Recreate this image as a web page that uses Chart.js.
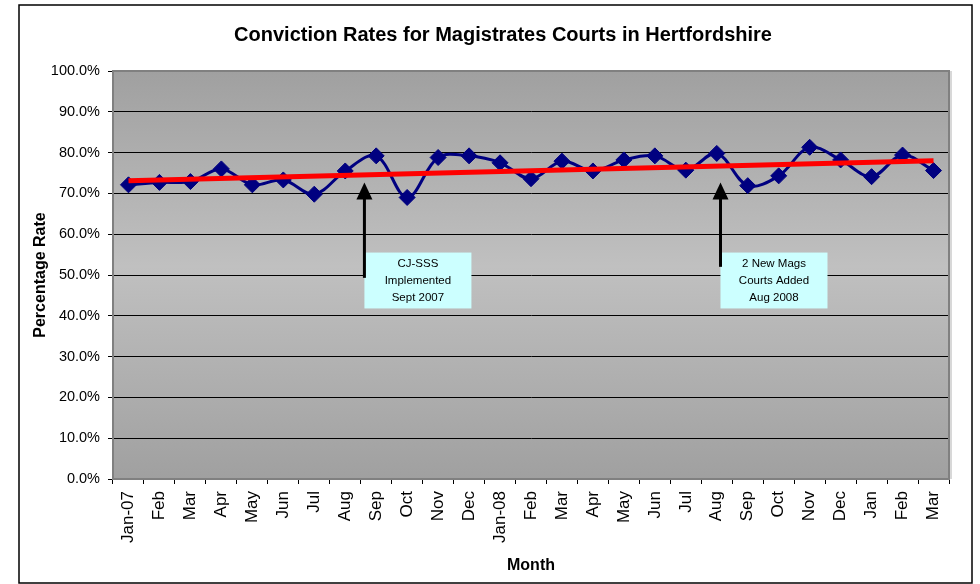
<!DOCTYPE html>
<html>
<head>
<meta charset="utf-8">
<script src="https://cdn.jsdelivr.net/npm/chart.js@4.4.1/dist/chart.umd.min.js"></script>
<style>
  body { margin: 0; background: #fff; }
  canvas { display: block; }
</style>
</head>
<body>
<canvas id="myChart" width="980" height="584"></canvas>
<script>
// data
const months = ['Jan-07', 'Feb', 'Mar', 'Apr', 'May', 'Jun', 'Jul', 'Aug', 'Sep', 'Oct', 'Nov', 'Dec',
  'Jan-08', 'Feb', 'Mar', 'Apr', 'May', 'Jun', 'Jul', 'Aug', 'Sep', 'Oct', 'Nov', 'Dec', 'Jan', 'Feb', 'Mar'];
const convictionRate = [72.1, 72.7, 72.9, 76.0, 72.1, 73.3, 69.8, 75.5, 79.2, 69.0, 78.8, 79.2,
  77.5, 73.6, 77.9, 75.5, 78.2, 79.2, 75.7, 79.8, 71.9, 74.3, 81.3, 78.2, 74.1, 79.4, 75.6];
const trendEnds = [73.1, 78.0];
const yTicks = [0, 10, 20, 30, 40, 50, 60, 70, 80, 90, 100];

// trend line: only the two end values, the line spans the gap
const trendLine = months.map((m, i) => i === 0 ? trendEnds[0] : (i === months.length - 1 ? trendEnds[1] : null));

// notes: x as category index, y in % on the value axis
const notes = [
  { x: 7.62, tip: 72.7, tail: 49.3, top: 55.5, bottom: 41.8, lines: ['CJ-SSS', 'Implemented', 'Sept 2007'] },
  { x: 19.12, tip: 72.7, tail: 52.0, top: 55.5, bottom: 41.8, lines: ['2 New Mags', 'Courts Added', 'Aug 2008'] }
];

const FONT = 'Arial, "Liberation Sans", sans-serif';

const plotBackground = {
  id: 'plotBackground',
  beforeDraw(chart) {
    const { ctx, chartArea: a } = chart;
    ctx.save();
    const g = ctx.createLinearGradient(0, a.top, 0, a.bottom);
    g.addColorStop(0, '#a0a0a0');
    g.addColorStop(0.48, '#c0c0c0');
    g.addColorStop(1, '#a0a0a0');
    ctx.fillStyle = g;
    ctx.fillRect(a.left, a.top, a.right - a.left, a.bottom - a.top);
    ctx.restore();
  },
  beforeDatasetsDraw(chart) {
    const { ctx, chartArea: a, scales } = chart;
    ctx.save();
    ctx.strokeStyle = '#808080';
    ctx.lineWidth = 2;
    ctx.strokeRect(a.left, a.top, a.right - a.left, a.bottom - a.top);
    ctx.fillStyle = '#d8d8d8';
    ctx.fillRect(a.right + 1, a.top, 2, a.bottom - a.top);

    // note boxes and arrows
    notes.forEach(n => {
      const x = scales.x.getPixelForValue(n.x);
      const yTip = scales.y.getPixelForValue(n.tip);
      const yTail = scales.y.getPixelForValue(n.tail);
      const yTop = scales.y.getPixelForValue(n.top);
      const yBot = scales.y.getPixelForValue(n.bottom);
      const w = 107;
      ctx.fillStyle = '#ccffff';
      ctx.fillRect(x, yTop, w, yBot - yTop);
      ctx.fillStyle = '#000';
      ctx.font = '11.5px ' + FONT;
      ctx.textAlign = 'center';
      ctx.textBaseline = 'middle';
      n.lines.forEach((t, i) => ctx.fillText(t, x + w / 2, yTop + 11 + i * 17));
      ctx.strokeStyle = '#000';
      ctx.lineWidth = 3;
      ctx.beginPath();
      ctx.moveTo(x, yTail);
      ctx.lineTo(x, yTip + 14);
      ctx.stroke();
      ctx.beginPath();
      ctx.moveTo(x, yTip);
      ctx.lineTo(x - 8, yTip + 17);
      ctx.lineTo(x + 8, yTip + 17);
      ctx.closePath();
      ctx.fill();
    });
    ctx.restore();
  },
  afterDraw(chart) {
    const { ctx } = chart;
    ctx.save();
    ctx.strokeStyle = '#000';
    ctx.lineWidth = 1.5;
    ctx.strokeRect(19, 5, 953, 578);
    ctx.fillStyle = '#000';
    ctx.font = 'bold 20px ' + FONT;
    ctx.textAlign = 'center';
    ctx.textBaseline = 'middle';
    ctx.fillText('Conviction Rates for Magistrates Courts in Hertfordshire', 503, 35);
    ctx.restore();
  }
};

const ctx = document.getElementById('myChart');
new Chart(ctx, {
  type: 'line',
  data: {
    labels: months,
    datasets: [
      {
        label: 'Trend',
        data: trendLine,
        borderColor: '#ff0000',
        borderWidth: 5,
        pointRadius: 0,
        spanGaps: true,
        tension: 0,
        order: 0
      },
      {
        label: 'Conviction Rate',
        data: convictionRate,
        borderColor: '#000080',
        backgroundColor: '#000080',
        borderWidth: 3,
        pointStyle: 'rectRot',
        pointRadius: 8,
        pointBorderWidth: 1,
        tension: 0.35,
        order: 1
      }
    ]
  },
  options: {
    responsive: false,
    animation: false,
    devicePixelRatio: 1,
    layout: { padding: { top: 71, right: 31, left: 0, bottom: 0 } },
    plugins: {
      legend: { display: false },
      title: { display: false },
      tooltip: { enabled: false }
    },
    scales: {
      x: {
        offset: true,
        afterFit: s => { s.height = 105; },
        grid: { display: true, drawOnChartArea: false, offset: true, tickLength: 5, color: '#000' },
        border: { color: '#000', width: 1.5 },
        ticks: {
          autoSkip: false, maxRotation: 90, minRotation: 90, padding: 7,
          color: '#000', font: { family: FONT, size: 17 }
        },
        title: {
          display: true, text: 'Month', color: '#000',
          font: { family: FONT, size: 16, weight: 'bold' },
          padding: { top: 0, bottom: 9 }
        }
      },
      y: {
        min: 0,
        max: 100,
        afterFit: s => { s.width = 113; },
        afterBuildTicks: s => { s.ticks = yTicks.map(v => ({ value: v })); },
        grid: { color: '#000', lineWidth: 1, tickLength: 5 },
        border: { color: '#000', width: 2 },
        ticks: {
          padding: 8, color: '#000',
          font: { family: FONT, size: 14.5 },
          callback: v => v.toFixed(1) + '%'
        },
        title: {
          display: true, text: 'Percentage Rate', color: '#000',
          font: { family: FONT, size: 16, weight: 'bold' },
          padding: { top: 31, bottom: 0 }
        }
      }
    }
  },
  plugins: [plotBackground]
});
</script>
</body>
</html>
